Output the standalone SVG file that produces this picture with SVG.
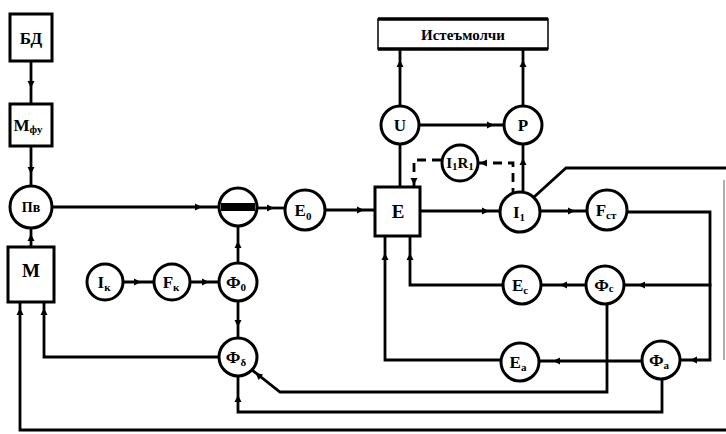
<svg xmlns="http://www.w3.org/2000/svg" width="726" height="434" viewBox="0 0 726 434">
<defs>
<path id="ah" d="M-5,-3.5 L2,0 L-5,3.5 Z" fill="#000"/>
</defs>
<style>
.n{fill:#fff;stroke:#000;stroke-width:3}
.t{font-family:"Liberation Serif",serif;font-weight:bold;font-size:17px;text-anchor:middle;fill:#000}
.s{font-size:11px}
.c{fill:none;stroke:#000;stroke-width:2.8;stroke-linecap:square}
.d{fill:none;stroke:#000;stroke-width:2.8;stroke-dasharray:9 6}
.f{fill:none;stroke:#999;stroke-width:1.6}
</style>
<rect width="726" height="434" fill="#fff"/>
<g id="connectors">
<path class="c" d="M31,61 V104"/>
<path class="c" d="M31,146 V186"/>
<path class="c" d="M31,228 V247"/>
<path class="c" d="M52,207 H219"/>
<path class="c" d="M257,208 H285"/>
<path class="c" d="M325,210 H375"/>
<path class="c" d="M419,125 H504"/>
<path class="c" d="M400,49 V106"/>
<path class="c" d="M523,49 V106"/>
<path class="c" d="M400,144 V187"/>
<path class="c" d="M523,144 V192"/>
<path class="c" d="M420,211 H500"/>
<path class="c" d="M540,211 H587"/>
<path class="c" d="M627,212 H710 V360 H680"/>
<path class="c" d="M710,285 H624"/>
<path class="c" d="M534,197 L566,168 H726"/>
<path class="f" d="M724,180 V360"/>
<path class="c" d="M726,430 H20 V302"/>
<path class="c" d="M44,302 V357 H219"/>
<path class="c" d="M123,282 H154"/>
<path class="c" d="M190,282 H219"/>
<path class="c" d="M238,263 V226"/>
<path class="c" d="M238,301 V338"/>
<path class="c" d="M238,376 V412 H662 V379"/>
<path class="c" d="M607,304 V392 H280 L252,370"/>
<path class="c" d="M385,236 V360 H501"/>
<path class="c" d="M410,236 V285 H503"/>
<path class="c" d="M541,285 H586"/>
<path class="c" d="M539,361 H642"/>
<path class="d" d="M414,187 V160 H442"/>
<path class="d" d="M478,163 H513 V193"/>
<use href="#ah" transform="translate(31,86) rotate(90)"/>
<use href="#ah" transform="translate(31,172) rotate(90)"/>
<use href="#ah" transform="translate(31,236) rotate(-90)"/>
<use href="#ah" transform="translate(20,310) rotate(-90)"/>
<use href="#ah" transform="translate(44,310) rotate(-90)"/>
<use href="#ah" transform="translate(200,207)"/>
<use href="#ah" transform="translate(272,208)"/>
<use href="#ah" transform="translate(362,210)"/>
<use href="#ah" transform="translate(139,282)"/>
<use href="#ah" transform="translate(207,282)"/>
<use href="#ah" transform="translate(238,243) rotate(-90)"/>
<use href="#ah" transform="translate(238,325) rotate(90)"/>
<use href="#ah" transform="translate(238,397) rotate(-90)"/>
<use href="#ah" transform="translate(257,374) rotate(-140)"/>
<use href="#ah" transform="translate(385,255) rotate(-90)"/>
<use href="#ah" transform="translate(410,255) rotate(-90)"/>
<use href="#ah" transform="translate(562,285) rotate(180)"/>
<use href="#ah" transform="translate(555,361) rotate(180)"/>
<use href="#ah" transform="translate(640,285) rotate(180)"/>
<use href="#ah" transform="translate(692,360) rotate(180)"/>
<use href="#ah" transform="translate(487,211)"/>
<use href="#ah" transform="translate(573,211)"/>
<use href="#ah" transform="translate(523,160) rotate(-90)"/>
<use href="#ah" transform="translate(400,62) rotate(-90)"/>
<use href="#ah" transform="translate(523,62) rotate(-90)"/>
<use href="#ah" transform="translate(492,125)"/>
<use href="#ah" transform="translate(482,163) rotate(180)"/>
<use href="#ah" transform="translate(414,183) rotate(90)"/>
</g>
<g id="BD"><rect class="n" x="10" y="14" width="42" height="47"/><text class="t" x="31" y="44">БД</text></g>
<g id="Mfu"><rect class="n" x="10" y="104" width="42" height="42"/><text class="t" x="28" y="131">M<tspan class="s" dy="2">фу</tspan></text></g>
<g id="Pv"><circle class="n" cx="31" cy="207" r="21"/><text class="t" x="31" y="212" style="font-size:14px">Пв</text></g>
<g id="M"><rect class="n" x="8" y="247" width="46" height="55"/><text class="t" x="31" y="277" style="font-size:19px">M</text></g>
<g id="Mul"><circle class="n" cx="238" cy="207" r="19"/><rect x="221" y="203" width="34" height="8" fill="#000"/></g>
<g id="E0"><circle class="n" cx="305" cy="210" r="20"/><text class="t" x="303" y="216">E<tspan class="s" dy="4">0</tspan></text></g>
<g id="E"><rect class="n" x="375" y="187" width="45" height="49"/><text class="t" x="398" y="218" style="font-size:19px">E</text></g>
<g id="Consumer"><rect x="378" y="19" width="170" height="30" fill="#fff" stroke="#000" stroke-width="1.5"/><path d="M378,19 H548 M378,49 H548" stroke="#000" stroke-width="3.5"/><text class="t" x="463" y="40" style="font-size:15px">Истеъмолчи</text></g>
<g id="U"><circle class="n" cx="400" cy="125" r="19"/><text class="t" x="400" y="131">U</text></g>
<g id="P"><circle class="n" cx="523" cy="125" r="19"/><text class="t" x="523" y="131">P</text></g>
<g id="I1R1"><circle class="n" cx="460" cy="163" r="18"/><text class="t" x="460" y="168" style="font-size:15px">I<tspan class="s" dy="2">1</tspan><tspan dy="-2">R</tspan><tspan class="s" dy="2">1</tspan></text></g>
<g id="I1"><circle class="n" cx="520" cy="212" r="20"/><text class="t" x="519" y="218">I<tspan class="s" dy="3">1</tspan></text></g>
<g id="Fa"><circle class="n" cx="607" cy="210" r="20"/><text class="t" x="606" y="216">F<tspan class="s" dy="3">ст</tspan></text></g>
<g id="Ik"><circle class="n" cx="105" cy="282" r="18"/><text class="t" x="104" y="288">I<tspan class="s" dy="3">к</tspan></text></g>
<g id="Fk"><circle class="n" cx="172" cy="282" r="18"/><text class="t" x="171" y="288">F<tspan class="s" dy="3">к</tspan></text></g>
<g id="F0"><circle class="n" cx="238" cy="282" r="19"/><text class="t" x="236" y="288">Ф<tspan class="s" dy="3">0</tspan></text></g>
<g id="Fd"><circle class="n" cx="238" cy="357" r="19"/><text class="t" x="236" y="363">Ф<tspan class="s" dy="3">δ</tspan></text></g>
<g id="Ec"><circle class="n" cx="522" cy="285" r="19"/><text class="t" x="520" y="291">E<tspan class="s" dy="3">c</tspan></text></g>
<g id="Fc"><circle class="n" cx="605" cy="285" r="19"/><text class="t" x="604" y="291">Ф<tspan class="s" dy="1">c</tspan></text></g>
<g id="Ea"><circle class="n" cx="520" cy="362" r="19"/><text class="t" x="518" y="368">E<tspan class="s" dy="3">а</tspan></text></g>
<g id="Fa2"><circle class="n" cx="661" cy="360" r="19"/><text class="t" x="659" y="366">Ф<tspan class="s" dy="3">а</tspan></text></g>
</svg>
